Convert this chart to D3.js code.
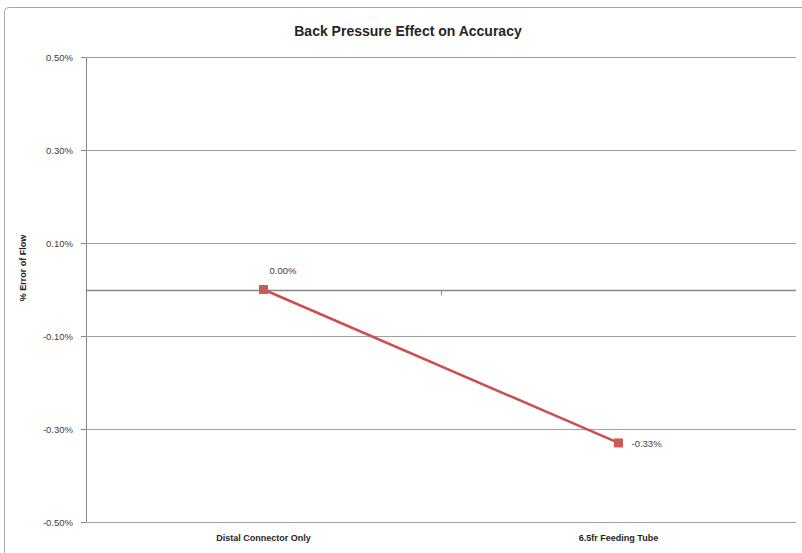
<!DOCTYPE html>
<html lang="en">
<head>
  <meta charset="UTF-8">
  <script src="https://cdn.jsdelivr.net/npm/d3@7"></script>
  <title>Back Pressure Effect on Accuracy</title>
  <style>
    body { margin: 0; background: #fff; }
    svg { display: block; font-family: "Liberation Sans", Arial, sans-serif; }
  </style>
</head>
<body>
  <svg width="802" height="553"></svg>
<script>
  // data
  const categories = ["Distal Connector Only", "6.5fr Feeding Tube"];
  const values = [0.0000, -0.0033];
  const yTicks = [-0.005, -0.003, -0.001, 0.001, 0.003, 0.005];

  const svg = d3.select("svg");
  const margin = { left: 86, top: 57, right: 6, bottom: 31 };
  const width = +svg.attr("width");
  const height = +svg.attr("height");

  // chart border (runs past the right and bottom edges)
  svg.append("rect")
    .attr("x", 4.5).attr("y", 7.5)
    .attr("width", 840).attr("height", 600)
    .attr("rx", 4)
    .attr("fill", "#fff")
    .attr("stroke", "#a6a6a6");

  const xScale = d3.scaleBand()
    .domain(categories)
    .range([margin.left, width - margin.right]);

  const yScale = d3.scaleLinear()
    .domain([-0.005, 0.005])
    .range([height - margin.bottom, margin.top]);

  // plain hyphen instead of d3's unicode minus
  const fmt = v => d3.format(".2%")(v).replace("\u2212", "-");

  // y axis with gridlines
  const yAxis = svg.append("g")
    .attr("transform", "translate(" + margin.left + ",0)")
    .call(d3.axisLeft(yScale).tickValues(yTicks).tickSize(5).tickFormat(fmt));
  yAxis.select(".domain").attr("stroke", "#868686");
  yAxis.selectAll(".tick line").attr("stroke", "#868686");
  yAxis.selectAll(".tick text")
    .attr("x", -13)
    .attr("fill", "#404040")
    .style("font-size", "9.5px")
    .style("font-family", "Liberation Sans, Arial, sans-serif");

  svg.append("g")
    .selectAll("line")
    .data(yTicks)
    .join("line")
    .attr("x1", margin.left)
    .attr("x2", width - margin.right)
    .attr("y1", d => Math.round(yScale(d)) + 0.5)
    .attr("y2", d => Math.round(yScale(d)) + 0.5)
    .attr("stroke", "#a0a0a0");

  // category axis crossing at zero
  const y0 = Math.round(yScale(0)) + 0.5;
  svg.append("line")
    .attr("x1", margin.left).attr("x2", width - margin.right)
    .attr("y1", y0).attr("y2", y0)
    .attr("stroke", "#868686")
    .attr("stroke-width", 1.5);

  svg.append("g")
    .selectAll("line")
    .data(categories.slice(1))
    .join("line")
    .attr("x1", d => Math.round(xScale(d)) + 0.5)
    .attr("x2", d => Math.round(xScale(d)) + 0.5)
    .attr("y1", y0).attr("y2", y0 + 5)
    .attr("stroke", "#868686");

  // category labels at the bottom
  svg.append("g")
    .selectAll("text")
    .data(categories)
    .join("text")
    .attr("x", d => xScale(d) + xScale.bandwidth() / 2)
    .attr("y", height - 12)
    .attr("text-anchor", "middle")
    .attr("fill", "#262626")
    .style("font-size", "9px")
    .style("font-weight", "bold")
    .text(d => d);

  // line
  const pts = categories.map((c, i) => ({ c: c, v: values[i] }));
  const line = d3.line()
    .x(d => xScale(d.c) + xScale.bandwidth() / 2)
    .y(d => yScale(d.v));

  svg.append("path")
    .datum(pts)
    .attr("d", line)
    .attr("fill", "none")
    .attr("stroke", "#c9504d")
    .attr("stroke-width", 2.5);

  svg.append("g")
    .selectAll("rect")
    .data(pts)
    .join("rect")
    .attr("x", d => xScale(d.c) + xScale.bandwidth() / 2 - 4.5)
    .attr("y", d => yScale(d.v) - 4.5)
    .attr("width", 9).attr("height", 9)
    .attr("fill", "#cc5a57");

  // data labels
  svg.append("g")
    .selectAll("text")
    .data(pts)
    .join("text")
    .attr("x", (d, i) => xScale(d.c) + xScale.bandwidth() / 2 + (i === 0 ? 6 : 13))
    .attr("y", (d, i) => yScale(d.v) + (i === 0 ? -16 : 4))
    .attr("fill", "#404040")
    .style("font-size", "9.5px")
    .text(d => fmt(d.v));

  // title
  svg.append("text")
    .attr("x", 408)
    .attr("y", 36)
    .attr("text-anchor", "middle")
    .attr("fill", "#262626")
    .style("font-size", "14px")
    .style("font-weight", "bold")
    .text("Back Pressure Effect on Accuracy");

  // y axis title
  svg.append("text")
    .attr("transform", "translate(26,268) rotate(-90)")
    .attr("text-anchor", "middle")
    .attr("fill", "#262626")
    .style("font-size", "9px")
    .style("font-weight", "bold")
    .text("% Error of Flow");
</script>
</body>
</html>
